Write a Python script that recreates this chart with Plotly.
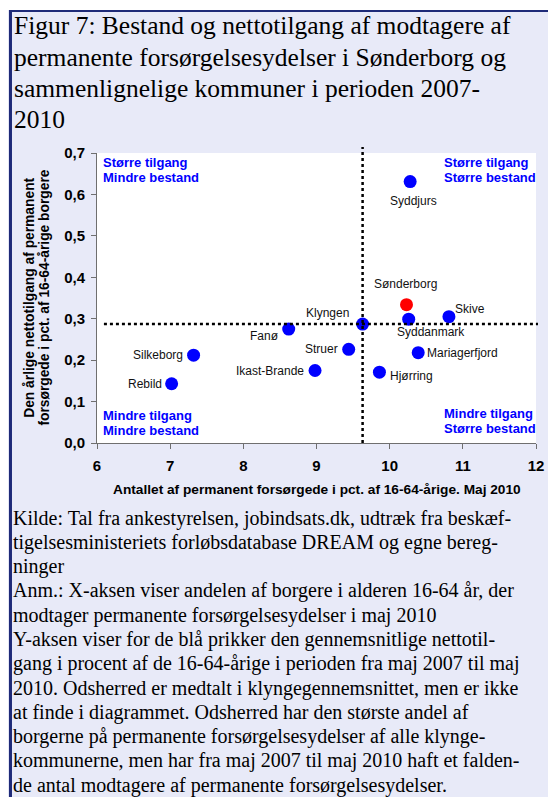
import plotly.graph_objects as go

# ---------------- data ----------------
kommuner = ["Syddjurs", "Sønderborg", "Skive", "Syddanmark", "Klyngen", "Fanø",
            "Struer", "Ikast-Brande", "Hjørring", "Mariagerfjord", "Silkeborg", "Rebild"]
bestand = [10.28, 10.23, 10.81, 10.26, 9.63, 8.62, 9.44, 8.98, 9.86, 10.39, 7.32, 7.02]
tilgang = [0.631, 0.334, 0.305, 0.299, 0.287, 0.275, 0.226, 0.175, 0.171, 0.218, 0.212, 0.143]
fremhaevet = "Sønderborg"
reference = "Klyngen"

x_ticks = [6, 7, 8, 9, 10, 11, 12]
y_ticks = [0.0, 0.1, 0.2, 0.3, 0.4, 0.5, 0.6, 0.7]

title_lines = [
    "Figur 7: Bestand og nettotilgang af modtagere af",
    "permanente forsørgelsesydelser i Sønderborg og",
    "sammenlignelige kommuner i perioden 2007-",
    "2010",
]
footer_lines = [
    "Kilde: Tal fra ankestyrelsen, jobindsats.dk, udtræk fra beskæf-",
    "tigelsesministeriets forløbsdatabase DREAM og egne bereg-",
    "ninger",
    "Anm.: X-aksen viser andelen af borgere i alderen 16-64 år, der",
    "modtager permanente forsørgelsesydelser i maj 2010",
    "Y-aksen viser for de blå prikker den gennemsnitlige nettotil-",
    "gang i procent af de 16-64-årige i perioden fra maj 2007 til maj",
    "2010. Odsherred er medtalt i klyngegennemsnittet, men er ikke",
    "at finde i diagrammet. Odsherred har den største andel af",
    "borgerne på permanente forsørgelsesydelser af alle klynge-",
    "kommunerne, men har fra maj 2007 til maj 2010 haft et falden-",
    "de antal modtagere af permanente forsørgelsesydelser.",
]
quadrant_text = {
    "tl": ["Større tilgang", "Mindre bestand"],
    "tr": ["Større tilgang", "Større bestand"],
    "bl": ["Mindre tilgang", "Mindre bestand"],
    "br": ["Mindre tilgang", "Større bestand"],
}
x_title = "Antallet af permanent forsørgede i pct. af 16-64-årige. Maj 2010"
y_title = ["Den årlige nettotilgang af permanent", "forsørgede i pct. af 16-64-årige borgere"]

# ---------------- styling / layout ----------------
OFF = 8                      # browser body margin
PAGE_W, PAGE_H = 556, 797
W, H = PAGE_W - OFF, PAGE_H - OFF
# plot area in page pixels
PL, PR, PT, PB = 97, 541, 153, 443
BG = "#E8EAF8"
NAVY = "#1E2A78"
BLUE = "#0000FF"
RED = "#FF0000"
SANS = "Liberation Sans, Arial, sans-serif"
SERIF = "Liberation Serif, Times New Roman, serif"


def px(X):
    return (X - PL) / (PR - PL)


def py(Y):
    return (PB - Y) / (PB - PT)


# label placement: (xanchor, xshift, yshift)
label_pos = {
    "Syddjurs": ("center", 3, -19),
    "Sønderborg": ("center", -1, 21),
    "Skive": ("left", 5, 8),
    "Syddanmark": ("left", -13, -13),
    "Klyngen": ("right", -13, 11),
    "Fanø": ("right", -9, -7),
    "Struer": ("right", -10, 0),
    "Ikast-Brande": ("right", -10, 0),
    "Hjørring": ("left", 10, -4),
    "Mariagerfjord": ("left", 8, 0),
    "Silkeborg": ("right", -10, 0),
    "Rebild": ("right", -9, 0),
}

colors = [RED if k == fremhaevet else BLUE for k in kommuner]

fig = go.Figure()
fig.add_trace(go.Scatter(
    x=bestand, y=tilgang, mode="markers",
    marker=dict(size=13, color=colors, line=dict(width=0)),
    hoverinfo="text", text=kommuner, cliponaxis=False, showlegend=False,
))

annotations = []
for k, xv, yv in zip(kommuner, bestand, tilgang):
    xa, xs, ys = label_pos[k]
    annotations.append(dict(
        x=xv, y=yv, xref="x", yref="y", text=k, showarrow=False,
        xanchor=xa, yanchor="middle", xshift=xs, yshift=ys, borderpad=0,
        font=dict(family=SANS, size=12, color="#111111"),
    ))

# quadrant labels (page pixels)
q_pos = {"tl": (102, [162, 177]), "tr": (447, [162, 177]),
         "bl": (102, [415, 430]), "br": (447, [413, 428])}
for key, (X, Ys) in q_pos.items():
    for t, Y in zip(quadrant_text[key], Ys):
        annotations.append(dict(
            x=px(X), y=py(Y), xref="paper", yref="paper", text=t, showarrow=False,
            xanchor="left", yanchor="middle", borderpad=0,
            font=dict(family=SANS, size=13, color=BLUE, weight="bold"),
        ))

# title lines
for i, t in enumerate(title_lines):
    annotations.append(dict(
        x=px(12), y=py(26 + 31.2 * i), xref="paper", yref="paper", text=t, showarrow=False,
        xanchor="left", yanchor="middle", borderpad=0,
        font=dict(family=SERIF, size=25.5, color="#000000"),
    ))

# footer lines
for i, t in enumerate(footer_lines):
    annotations.append(dict(
        x=px(11), y=py(518 + 24.3 * i), xref="paper", yref="paper", text=t, showarrow=False,
        xanchor="left", yanchor="middle", borderpad=0,
        font=dict(family=SERIF, size=20, color="#000000"),
    ))

# axis titles
annotations.append(dict(
    x=px(319), y=py(489), xref="paper", yref="paper", text=x_title, showarrow=False,
    xanchor="center", yanchor="middle", borderpad=0,
    font=dict(family=SANS, size=13.7, color="#000000", weight="bold"),
))
for t, X in zip(y_title, [28, 43]):
    annotations.append(dict(
        x=px(X), y=py(298), xref="paper", yref="paper", text=t, showarrow=False,
        textangle=-90, xanchor="center", yanchor="middle", borderpad=0,
        font=dict(family=SANS, size=13.8, color="#000000", weight="bold"),
    ))

ref_idx = kommuner.index(reference)
ref_x, ref_y = bestand[ref_idx], tilgang[ref_idx]

shapes = [
    # white strip above the framed box
    dict(type="rect", xref="paper", yref="paper", x0=px(0), x1=px(PAGE_W + 10), y0=py(10), y1=py(0),
         fillcolor="white", line=dict(width=0), layer="below"),
    # frame borders
    dict(type="line", xref="paper", yref="paper", x0=px(9.5), x1=px(9.5), y0=py(PAGE_H + 10), y1=py(10),
         line=dict(color=NAVY, width=3)),
    dict(type="line", xref="paper", yref="paper", x0=px(8), x1=px(PAGE_W + 10), y0=py(11), y1=py(11),
         line=dict(color=NAVY, width=2)),
    # reference lines through the cluster average
    dict(type="line", xref="x", yref="paper", x0=ref_x, x1=ref_x, y0=0, y1=py(147),
         line=dict(color="black", width=2.5, dash="dot")),
    dict(type="line", xref="paper", yref="y", x0=px(104), x1=px(543), y0=ref_y, y1=ref_y,
         line=dict(color="black", width=2.5, dash="dot")),
]

axis_common = dict(
    showgrid=False, zeroline=False, showline=True, linecolor="#6F6F6F", linewidth=1,
    ticks="outside", ticklen=5, tickcolor="#6F6F6F", tickwidth=1,
    tickfont=dict(family=SANS, size=15, color="#000000", weight="bold"),
)

fig.update_layout(
    width=W, height=H, autosize=False,
    margin=dict(l=PL - OFF, r=PAGE_W - PR, t=PT - OFF, b=PAGE_H - PB, pad=0),
    paper_bgcolor=BG, plot_bgcolor="white",
    separators=",.",
    xaxis=dict(range=[6, 12], tickvals=x_ticks, ticklabelstandoff=4, **axis_common),
    yaxis=dict(range=[0, 0.7], tickvals=y_ticks, tickformat=".1f", ticklabelstandoff=3, **axis_common),
    annotations=annotations, shapes=shapes, showlegend=False,
)

fig.write_html("out.html")
